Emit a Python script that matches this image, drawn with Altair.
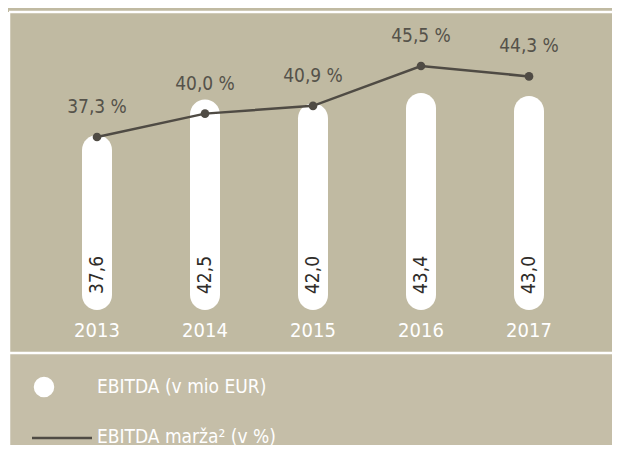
import altair as alt
import pandas as pd

years = ["2013", "2014", "2015", "2016", "2017"]
ebitda = [37.6, 42.5, 42.0, 43.4, 43.0]
margin = [37.3, 40.0, 40.9, 45.5, 44.3]
legend_labels = ["EBITDA (v mio EUR)", "EBITDA marža² (v %)"]

FONT = "'DejaVu Sans Condensed', 'Roboto', sans-serif"
BG = "#c0baa2"
LINE = "#4f4b44"

df = pd.DataFrame({
    "year": years,
    "ebitda": ebitda,
    "margin": margin,
    "ebitda_lbl": [f"{v:.1f}".replace(".", ",") for v in ebitda],
    "margin_lbl": [f"{v:.1f}".replace(".", ",") + " %" for v in margin],
})

W, H = 604, 437
xs = alt.X("year:O", sort=None, axis=None,
           scale=alt.Scale(domain=years, range=[35, 575], paddingInner=0, paddingOuter=0))
bar_scale = alt.Scale(domain=[13.4, 43.4], range=[302, 85], zero=False, nice=False)
line_scale = alt.Scale(domain=[37.3, 45.5], range=[129, 58], zero=False, nice=False)

base = alt.Chart(df)

bars = base.mark_bar(width=30, cornerRadius=15, color="white").encode(
    x=xs,
    y=alt.Y("ebitda:Q", scale=bar_scale, axis=None),
    y2=alt.datum(13.4),
)

bar_text = base.mark_text(angle=270, fontSize=19, font=FONT, color="#2f2d29",
                          align="center", baseline="middle", yOffset=-35).encode(
    x=xs,
    y=alt.datum(13.4, scale=bar_scale),
    text="ebitda_lbl:N",
)

year_text = base.mark_text(fontSize=20, font=FONT, color="white",
                           align="center", baseline="middle", yOffset=21).encode(
    x=xs,
    y=alt.datum(13.4, scale=bar_scale),
    text="year:N",
)

line = base.mark_line(color=LINE, strokeWidth=2.5).encode(
    x=xs,
    y=alt.Y("margin:Q", scale=line_scale, axis=None),
)
pts = base.mark_circle(color=LINE, size=75, opacity=1).encode(
    x=xs,
    y=alt.Y("margin:Q", scale=line_scale, axis=None),
)
pct_text = base.mark_text(fontSize=19, font=FONT, color="#55524a",
                          align="center", baseline="middle", dy=-30).encode(
    x=xs,
    y=alt.Y("margin:Q", scale=line_scale, axis=None),
    text="margin_lbl:N",
)

one = alt.Chart(pd.DataFrame({"a": [0]}))
legend_bg = one.mark_rect(color="#c5bea8").encode(
    x=alt.value(2), x2=alt.value(W), y=alt.value(346), y2=alt.value(H))
border_v = one.mark_rule(color="white", strokeWidth=2.5).encode(
    x=alt.value(1), y=alt.value(4), y2=alt.value(H))
border_t = one.mark_rule(color="white", strokeWidth=2.5).encode(
    x=alt.value(1), x2=alt.value(W), y=alt.value(4))
sep = one.mark_rule(color="white", strokeWidth=2.5).encode(
    x=alt.value(1), x2=alt.value(W), y=alt.value(345))

leg_df = pd.DataFrame({"label": legend_labels})
leg_circle = one.mark_circle(color="white", size=420, opacity=1).encode(
    x=alt.value(36), y=alt.value(379))
leg_line = one.mark_rule(color=LINE, strokeWidth=2.5).encode(
    x=alt.value(24), x2=alt.value(84), y=alt.value(430))
leg_t1 = alt.Chart(leg_df.iloc[[0]]).mark_text(
    fontSize=19, font=FONT, color="white", align="left", baseline="middle").encode(
    x=alt.value(89), y=alt.value(379), text="label:N")
leg_t2 = alt.Chart(leg_df.iloc[[1]]).mark_text(
    fontSize=19, font=FONT, color="white", align="left", baseline="middle").encode(
    x=alt.value(89), y=alt.value(429), text="label:N")

chart = alt.layer(
    legend_bg, border_v, border_t, sep,
    bars, bar_text, year_text, line, pts, pct_text,
    leg_circle, leg_line, leg_t1, leg_t2,
).resolve_scale(y="independent").properties(
    width=W, height=H,
    autosize=alt.AutoSizeParams(type="none"),
    padding=0,
    background=BG,
).configure_view(stroke=None)

chart.save("out.html", embed_options={"renderer": "svg", "actions": False})
